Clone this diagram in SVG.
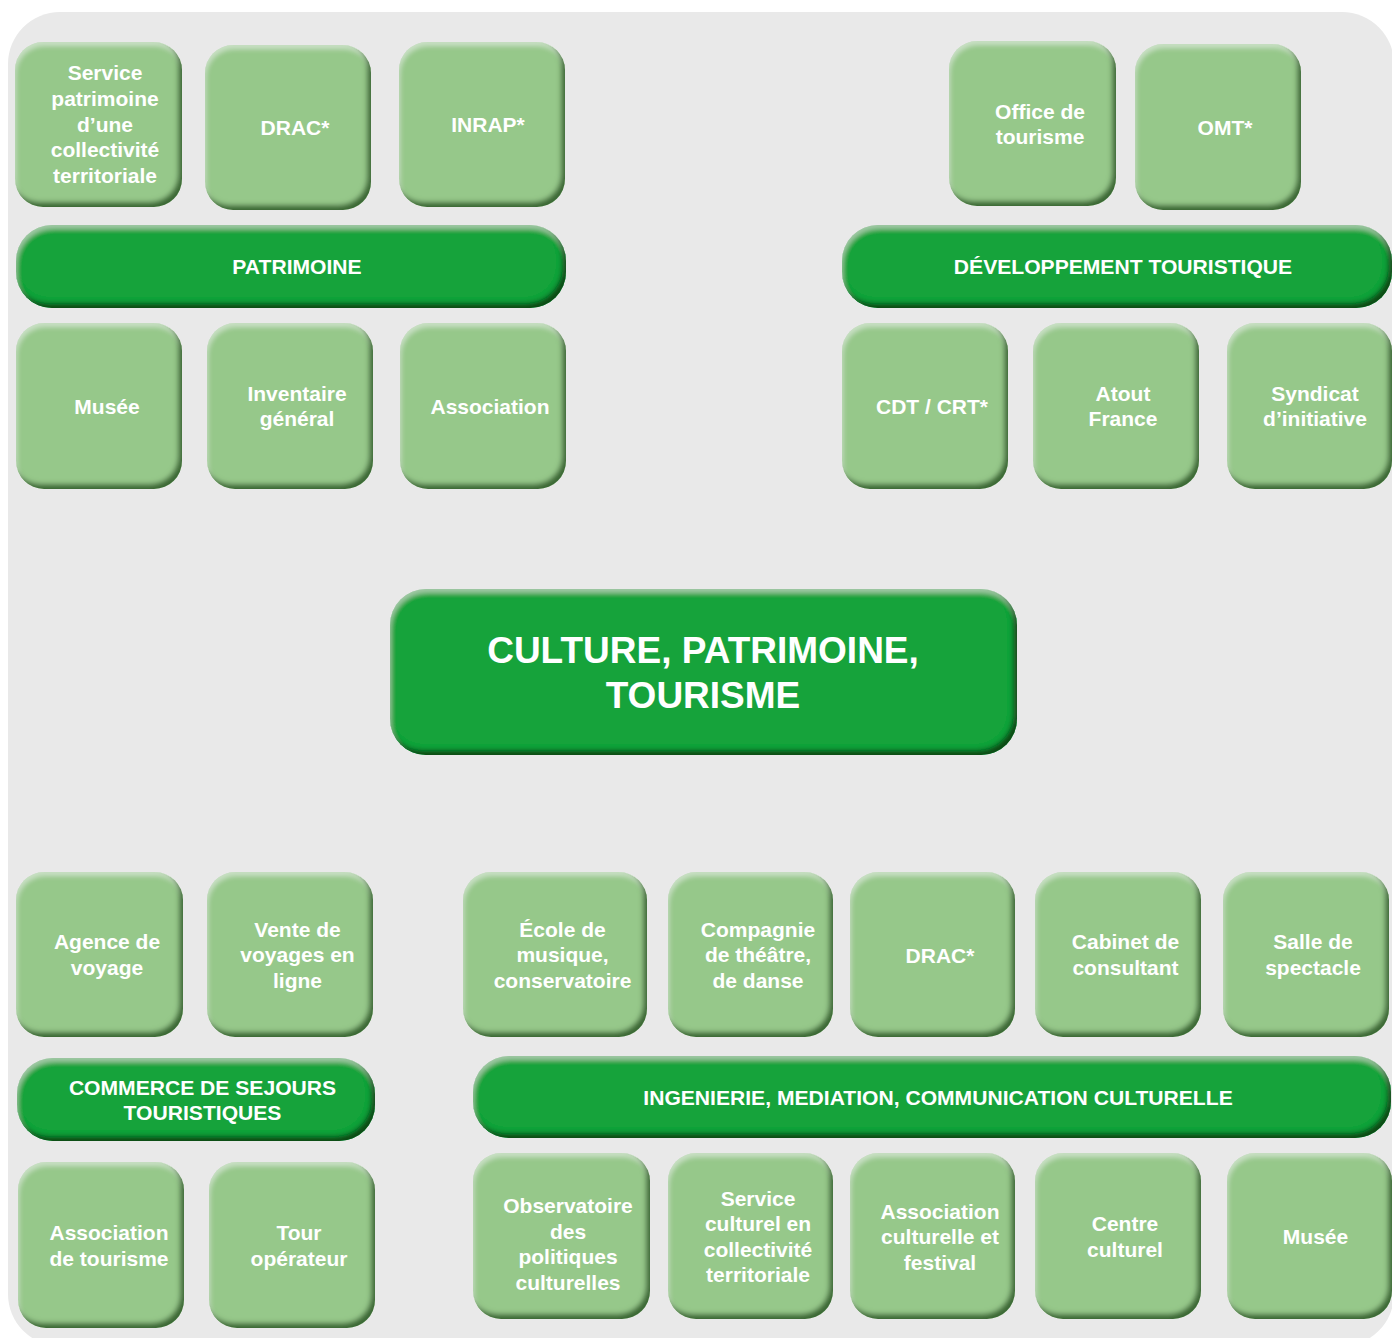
<svg xmlns="http://www.w3.org/2000/svg" width="1392" height="1338" viewBox="0 0 1392 1338">
<defs>
<filter id="bevL" x="-5%" y="-5%" width="110%" height="110%">
  <feGaussianBlur in="SourceAlpha" stdDeviation="2.5" result="blur"/>
  <feOffset in="blur" dx="-4" dy="-5" result="dk"/>
  <feComposite in="SourceAlpha" in2="dk" operator="arithmetic" k2="1" k3="-1" result="dkEdge"/>
  <feFlood flood-color="#3b6834"/>
  <feComposite in2="dkEdge" operator="in" result="dkCol"/>
  <feOffset in="blur" dx="1" dy="4" result="lt"/>
  <feComposite in="SourceAlpha" in2="lt" operator="arithmetic" k2="1" k3="-1" result="ltEdge"/>
  <feFlood flood-color="#ffffff" flood-opacity="0.4"/>
  <feComposite in2="ltEdge" operator="in" result="ltCol"/>
  <feMerge><feMergeNode in="SourceGraphic"/><feMergeNode in="ltCol"/><feMergeNode in="dkCol"/></feMerge>
</filter>
<filter id="bevD" x="-5%" y="-10%" width="110%" height="120%">
  <feGaussianBlur in="SourceAlpha" stdDeviation="2.5" result="blur"/>
  <feOffset in="blur" dx="-4" dy="-5" result="dk"/>
  <feComposite in="SourceAlpha" in2="dk" operator="arithmetic" k2="1" k3="-1" result="dkEdge"/>
  <feFlood flood-color="#0a4a18"/>
  <feComposite in2="dkEdge" operator="in" result="dkCol"/>
  <feOffset in="blur" dx="1" dy="4" result="lt"/>
  <feComposite in="SourceAlpha" in2="lt" operator="arithmetic" k2="1" k3="-1" result="ltEdge"/>
  <feFlood flood-color="#ffffff" flood-opacity="0.35"/>
  <feComposite in2="ltEdge" operator="in" result="ltCol"/>
  <feMerge><feMergeNode in="SourceGraphic"/><feMergeNode in="ltCol"/><feMergeNode in="dkCol"/></feMerge>
</filter>
</defs>
<style>
.box{fill:#96c88a;filter:url(#bevL)}
.bar{fill:#16a33a;filter:url(#bevD)}
.t{font-family:"Liberation Sans",Arial,Helvetica,sans-serif;font-weight:bold;fill:#ffffff;font-size:21px;text-anchor:middle}
.tb{font-size:21.1px}
.tc{font-size:37px}
</style>
<rect x="0" y="0" width="1392" height="1338" fill="#ffffff"/>
<rect x="8" y="12" width="1386" height="1334" rx="52" fill="#e9e9e9"/>

<g id="connectors"></g>

<g id="n-service-patrimoine"><rect class="box" x="15" y="42" width="167" height="165" rx="28"/>
<text class="t" x="105"><tspan x="105" y="80.3">Service</tspan><tspan x="105" y="105.9">patrimoine</tspan><tspan x="105" y="131.5">d’une</tspan><tspan x="105" y="157.1">collectivité</tspan><tspan x="105" y="182.7">territoriale</tspan></text></g>
<g id="n-drac-1"><rect class="box" x="205" y="45" width="166" height="165" rx="28"/>
<text class="t" x="295" y="135">DRAC*</text></g>
<g id="n-inrap"><rect class="box" x="399" y="42" width="166" height="165" rx="28"/>
<text class="t" x="488" y="131.5">INRAP*</text></g>
<g id="n-office"><rect class="box" x="949" y="41" width="167" height="165" rx="28"/>
<text class="t"><tspan x="1040" y="118.7">Office de</tspan><tspan x="1040" y="144.3">tourisme</tspan></text></g>
<g id="n-omt"><rect class="box" x="1135" y="44" width="166" height="166" rx="28"/>
<text class="t" x="1225" y="134.5">OMT*</text></g>

<g id="n-patrimoine"><rect class="bar" x="16" y="225" width="550" height="83" rx="36"/>
<text class="t tb" x="297" y="274">PATRIMOINE</text></g>
<g id="n-developpement"><rect class="bar" x="842" y="225" width="550" height="83" rx="36"/>
<text class="t tb" x="1123" y="274">DÉVELOPPEMENT TOURISTIQUE</text></g>

<g id="n-musee-1"><rect class="box" x="16" y="323" width="166" height="166" rx="28"/>
<text class="t" x="107" y="413.5">Musée</text></g>
<g id="n-inventaire"><rect class="box" x="207" y="323" width="166" height="166" rx="28"/>
<text class="t"><tspan x="297" y="400.7">Inventaire</tspan><tspan x="297" y="426.3">général</tspan></text></g>
<g id="n-association-1"><rect class="box" x="400" y="323" width="166" height="166" rx="28"/>
<text class="t" x="490" y="413.5">Association</text></g>
<g id="n-cdt"><rect class="box" x="842" y="323" width="166" height="166" rx="28"/>
<text class="t" x="932" y="413.5">CDT / CRT*</text></g>
<g id="n-atout"><rect class="box" x="1033" y="323" width="166" height="166" rx="28"/>
<text class="t"><tspan x="1123" y="400.7">Atout</tspan><tspan x="1123" y="426.3">France</tspan></text></g>
<g id="n-syndicat"><rect class="box" x="1227" y="323" width="165" height="166" rx="28"/>
<text class="t"><tspan x="1315" y="400.7">Syndicat</tspan><tspan x="1315" y="426.3">d’initiative</tspan></text></g>

<g id="n-central"><rect class="bar" x="390" y="589" width="627" height="166" rx="36"/>
<text class="t tc"><tspan x="703" y="663">CULTURE, PATRIMOINE,</tspan><tspan x="703" y="708">TOURISME</tspan></text></g>

<g id="n-agence"><rect class="box" x="16" y="872" width="167" height="165" rx="28"/>
<text class="t"><tspan x="107" y="949">Agence de</tspan><tspan x="107" y="974.6">voyage</tspan></text></g>
<g id="n-vente"><rect class="box" x="207" y="872" width="166" height="165" rx="28"/>
<text class="t"><tspan x="297.5" y="936.5">Vente de</tspan><tspan x="297.5" y="962.1">voyages en</tspan><tspan x="297.5" y="987.7">ligne</tspan></text></g>
<g id="n-ecole"><rect class="box" x="463" y="872" width="184" height="165" rx="28"/>
<text class="t"><tspan x="562.5" y="936.5">École de</tspan><tspan x="562.5" y="962.1">musique,</tspan><tspan x="562.5" y="987.7">conservatoire</tspan></text></g>
<g id="n-compagnie"><rect class="box" x="668" y="872" width="165" height="165" rx="28"/>
<text class="t"><tspan x="758" y="936.5">Compagnie</tspan><tspan x="758" y="962.1">de théâtre,</tspan><tspan x="758" y="987.7">de danse</tspan></text></g>
<g id="n-drac-2"><rect class="box" x="850" y="872" width="165" height="165" rx="28"/>
<text class="t" x="940" y="962.5">DRAC*</text></g>
<g id="n-cabinet"><rect class="box" x="1035" y="872" width="166" height="165" rx="28"/>
<text class="t"><tspan x="1125.5" y="949">Cabinet de</tspan><tspan x="1125.5" y="974.6">consultant</tspan></text></g>
<g id="n-salle"><rect class="box" x="1223" y="872" width="166" height="165" rx="28"/>
<text class="t"><tspan x="1313" y="949">Salle de</tspan><tspan x="1313" y="974.6">spectacle</tspan></text></g>

<g id="n-commerce"><rect class="bar" x="17" y="1058" width="358" height="83" rx="36"/>
<text class="t tb"><tspan x="202.5" y="1095">COMMERCE DE SEJOURS</tspan><tspan x="202.5" y="1120">TOURISTIQUES</tspan></text></g>
<g id="n-ingenierie"><rect class="bar" x="473" y="1056" width="918" height="82" rx="36"/>
<text class="t tb" x="938" y="1105">INGENIERIE, MEDIATION, COMMUNICATION CULTURELLE</text></g>

<g id="n-association-tourisme"><rect class="box" x="18" y="1162" width="166" height="166" rx="28"/>
<text class="t"><tspan x="109" y="1240">Association</tspan><tspan x="109" y="1265.6">de tourisme</tspan></text></g>
<g id="n-tour"><rect class="box" x="209" y="1162" width="166" height="166" rx="28"/>
<text class="t"><tspan x="299" y="1240">Tour</tspan><tspan x="299" y="1265.6">opérateur</tspan></text></g>
<g id="n-observatoire"><rect class="box" x="473" y="1153" width="177" height="166" rx="28"/>
<text class="t"><tspan x="568" y="1213">Observatoire</tspan><tspan x="568" y="1238.6">des</tspan><tspan x="568" y="1264.2">politiques</tspan><tspan x="568" y="1289.8">culturelles</tspan></text></g>
<g id="n-service-culturel"><rect class="box" x="668" y="1153" width="165" height="166" rx="28"/>
<text class="t"><tspan x="758" y="1205.5">Service</tspan><tspan x="758" y="1231.1">culturel en</tspan><tspan x="758" y="1256.7">collectivité</tspan><tspan x="758" y="1282.3">territoriale</tspan></text></g>
<g id="n-association-culturelle"><rect class="box" x="850" y="1153" width="165" height="166" rx="28"/>
<text class="t"><tspan x="940" y="1218.5">Association</tspan><tspan x="940" y="1244.1">culturelle et</tspan><tspan x="940" y="1269.7">festival</tspan></text></g>
<g id="n-centre-culturel"><rect class="box" x="1035" y="1153" width="166" height="166" rx="28"/>
<text class="t"><tspan x="1125" y="1231">Centre</tspan><tspan x="1125" y="1256.6">culturel</tspan></text></g>
<g id="n-musee-2"><rect class="box" x="1227" y="1153" width="165" height="166" rx="28"/>
<text class="t" x="1315.5" y="1244">Musée</text></g>
</svg>
